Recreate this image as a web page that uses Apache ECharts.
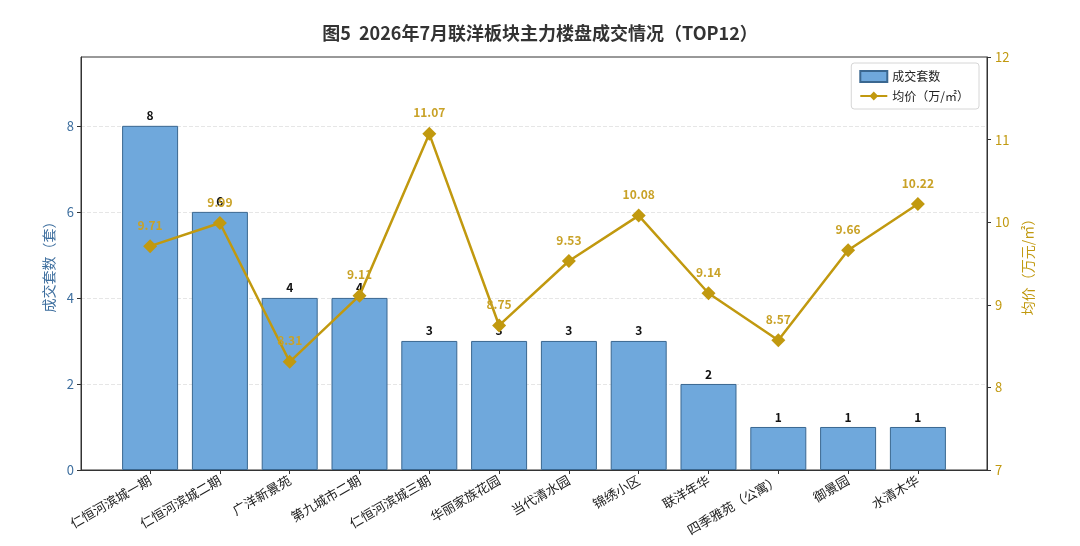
<!DOCTYPE html>
<html>
<head>
<meta charset="utf-8">
<script src="https://cdn.jsdelivr.net/npm/echarts@6/dist/echarts.min.js"></script>
<style>
  html, body { margin: 0; padding: 0; background: #fff; }
  #chart { width: 1080px; height: 546px; }
</style>
</head>
<body>
<div id="chart"></div>
<script>
// 楼盘名称
const projects = ['仁恒河滨城一期', '仁恒河滨城二期', '广洋新景苑', '第九城市二期', '仁恒河滨城三期', '华丽家族花园',
    '当代清水园', '锦绣小区', '联洋年华', '四季雅苑（公寓）', '御景园', '水清木华'];
// 成交套数
const deals = [8, 6, 4, 4, 3, 3, 3, 3, 2, 1, 1, 1];
// 均价（万元/㎡）
const prices = [9.71, 9.99, 8.31, 9.11, 11.07, 8.75, 9.53, 10.08, 9.14, 8.57, 9.66, 10.22];
// 刻度位置
const tickPos = projects.map((p, i) => i);

const font = '"Noto Sans CJK SC", "Noto Sans", sans-serif';
const blue = '#6fa8dc';
const gold = '#c1990f';

const chart = echarts.init(document.getElementById('chart'));
const option = {
    backgroundColor: '#fff',
    textStyle: { fontFamily: font },
    title: {
        text: '图5  2026年7月联洋板块主力楼盘成交情况（TOP12）',
        left: 'center',
        top: 19,
        textStyle: { fontSize: 18, fontWeight: 'bold', color: '#333', fontFamily: font }
    },
    legend: {
        orient: 'vertical',
        right: 101,
        top: 63,
        padding: [7, 10, 7, 8],
        itemGap: 7,
        itemWidth: 27,
        itemHeight: 11,
        backgroundColor: '#fff',
        borderColor: '#d6d6d6',
        borderWidth: 1,
        borderRadius: 3,
        textStyle: { fontSize: 12, color: '#222' },
        data: [
            { name: '成交套数', icon: 'rect' },
            { name: '均价（万/㎡）' }
        ]
    },
    grid: {
        left: 81, right: 93, top: 57, bottom: 76,
        show: true, borderColor: '#333', borderWidth: 1
    },
    xAxis: {
        type: 'value',
        min: -0.99,
        max: 11.99,
        axisLine: { show: true, onZero: false, lineStyle: { color: '#333' } },
        axisTick: { show: true, length: 4, customValues: tickPos, lineStyle: { color: '#333' } },
        axisLabel: {
            customValues: tickPos,
            rotate: 30,
            fontSize: 13,
            color: '#222',
            margin: 9,
            formatter: v => projects[Math.round(v)]
        },
        splitLine: { show: false }
    },
    yAxis: [{
        type: 'value',
        min: 0,
        max: 9.6,
        interval: 2,
        name: '成交套数（套）',
        nameLocation: 'middle',
        nameGap: 25,
        nameTextStyle: { fontSize: 14, color: '#3d6e9e' },
        axisLine: { show: true, onZero: false, lineStyle: { color: '#333' } },
        axisTick: { show: true, length: 4, lineStyle: { color: '#333' } },
        axisLabel: { fontSize: 13, color: '#3d6e9e', showMaxLabel: false, margin: 7 },
        splitLine: { show: true, showMaxLine: false, showMinLine: false, lineStyle: { color: '#e6e6e6', type: 'dashed' } }
    }, {
        type: 'value',
        min: 7,
        max: 12,
        interval: 1,
        name: '均价（万元/㎡）',
        nameLocation: 'middle',
        nameGap: 31,
        nameRotate: 90,
        nameTextStyle: { fontSize: 14, color: gold },
        axisLine: { show: true, onZero: false, lineStyle: { color: '#333' } },
        axisTick: { show: true, length: 4, lineStyle: { color: '#333' } },
        axisLabel: { fontSize: 13, color: gold, margin: 8 },
        splitLine: { show: false }
    }],
    series: [{
        name: '成交套数',
        type: 'bar',
        barWidth: 56,
        data: deals.map((v, i) => [i, v]),
        itemStyle: { color: blue, borderColor: '#3a6790', borderWidth: 1 },
        label: {
            show: true,
            position: 'top',
            distance: 4,
            fontSize: 12,
            fontWeight: 'bold',
            color: '#111',
            formatter: p => p.value[1]
        },
        z: 2
    }, {
        name: '均价（万/㎡）',
        type: 'line',
        yAxisIndex: 1,
        data: prices.map((v, i) => [i, v]),
        symbol: 'diamond',
        symbolSize: 14,
        lineStyle: { color: gold, width: 2.5 },
        itemStyle: { color: gold },
        label: {
            show: true,
            position: 'top',
            distance: 8,
            fontSize: 12,
            fontWeight: 'bold',
            color: '#c9a227',
            formatter: p => p.value[1].toFixed(2)
        },
        z: 3
    }]
};
chart.setOption(option);
</script>
</body>
</html>
